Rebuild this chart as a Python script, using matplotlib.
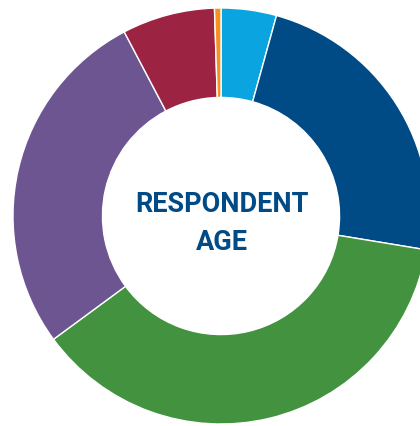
import matplotlib
matplotlib.use("Agg")
import matplotlib.pyplot as plt

# age groups, clockwise from the top
labels = ["18-24", "25-34", "35-44", "45-54", "55-64", "65+"]
shares = [4.3, 23.3, 37.3, 27.4, 7.2, 0.5]
colors = ["#0aa5e0", "#004a86", "#43923f", "#6c5591", "#9d2342", "#f7901e"]

fig = plt.figure(figsize=(4.2, 4.26), dpi=100)
ax = fig.add_axes([0, 0, 1, 1])

ax.pie(shares, colors=colors, startangle=90, counterclock=False, radius=1.0,
       wedgeprops=dict(width=0.43, edgecolor="white", linewidth=1.0))

ax.set_aspect("auto")
ax.set_xlim(-221 / 208, 199 / 208)
ax.set_ylim(-210 / 208, 216 / 208)
ax.axis("off")

ax.text(0.005, -0.035, "RESPONDENT\nAGE", ha="center", va="center",
        fontsize=19.5, fontweight="bold", color="#004a86",
        family=["Roboto", "DejaVu Sans"], linespacing=1.55)

fig.savefig("out.png", dpi=100)
